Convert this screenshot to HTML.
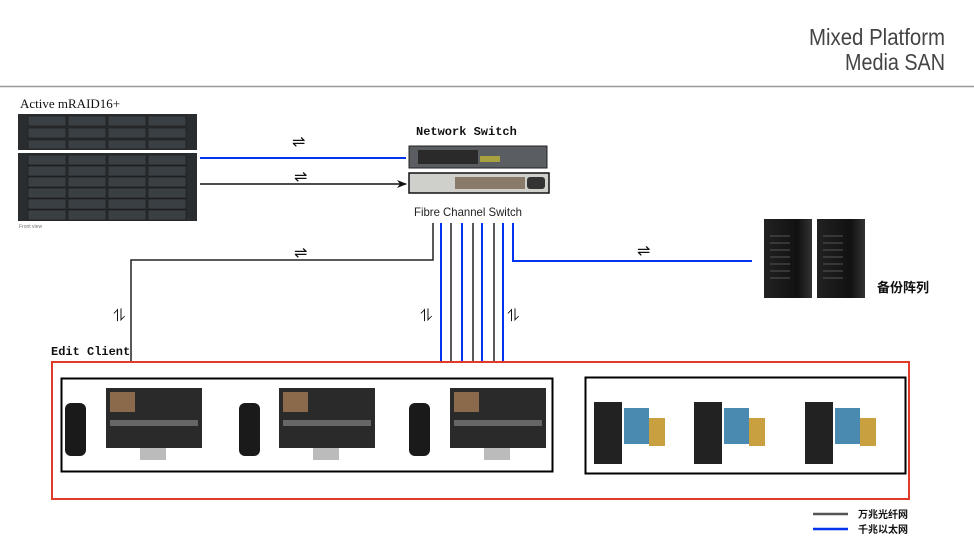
<!DOCTYPE html>
<html><head><meta charset="utf-8"><style>
body{margin:0;background:#fff;width:974px;height:538px;overflow:hidden}
svg{display:block}
</style></head><body>
<svg width="974" height="538" viewBox="0 0 974 538" xmlns="http://www.w3.org/2000/svg">
<defs>
<marker id="ah" markerWidth="10" markerHeight="8" refX="9" refY="4" orient="auto" markerUnits="userSpaceOnUse"><path d="M0,0 L10,4 L0,8 L3,4 z" fill="#111"/></marker>
<linearGradient id="tw" x1="0" x2="1"><stop offset="0" stop-color="#222"/><stop offset="0.7" stop-color="#111"/><stop offset="1" stop-color="#333"/></linearGradient>
</defs>
<!-- title -->
<text x="809" y="45" textLength="136" lengthAdjust="spacingAndGlyphs" font-family="'Liberation Sans',sans-serif" font-size="23" fill="#444">Mixed Platform</text>
<text x="845" y="70" textLength="100" lengthAdjust="spacingAndGlyphs" font-family="'Liberation Sans',sans-serif" font-size="23" fill="#444">Media SAN</text>
<line x1="0" y1="86.5" x2="974" y2="86.5" stroke="#999" stroke-width="1.5"/>

<!-- storage -->
<text x="20" y="108" font-family="'Liberation Serif',serif" font-size="13" fill="#111">Active mRAID16+</text>
<rect x="18" y="114" width="179" height="36" fill="#2a2d30"/>
<rect x="18" y="153" width="179" height="68" fill="#2a2d30"/>
<g fill="#3a3f44" stroke="#111" stroke-width="0.5">
<rect x="28" y="116" width="38" height="10"/><rect x="68" y="116" width="38" height="10"/><rect x="108" y="116" width="38" height="10"/><rect x="148" y="116" width="38" height="10"/>
<rect x="28" y="128" width="38" height="10"/><rect x="68" y="128" width="38" height="10"/><rect x="108" y="128" width="38" height="10"/><rect x="148" y="128" width="38" height="10"/>
<rect x="28" y="140" width="38" height="9"/><rect x="68" y="140" width="38" height="9"/><rect x="108" y="140" width="38" height="9"/><rect x="148" y="140" width="38" height="9"/>
</g>
<g fill="#3a3f44" stroke="#111" stroke-width="0.5">
<rect x="28" y="155" width="38" height="10"/><rect x="68" y="155" width="38" height="10"/><rect x="108" y="155" width="38" height="10"/><rect x="148" y="155" width="38" height="10"/>
<rect x="28" y="166" width="38" height="10"/><rect x="68" y="166" width="38" height="10"/><rect x="108" y="166" width="38" height="10"/><rect x="148" y="166" width="38" height="10"/>
<rect x="28" y="177" width="38" height="10"/><rect x="68" y="177" width="38" height="10"/><rect x="108" y="177" width="38" height="10"/><rect x="148" y="177" width="38" height="10"/>
<rect x="28" y="188" width="38" height="10"/><rect x="68" y="188" width="38" height="10"/><rect x="108" y="188" width="38" height="10"/><rect x="148" y="188" width="38" height="10"/>
<rect x="28" y="199" width="38" height="10"/><rect x="68" y="199" width="38" height="10"/><rect x="108" y="199" width="38" height="10"/><rect x="148" y="199" width="38" height="10"/>
<rect x="28" y="210" width="38" height="10"/><rect x="68" y="210" width="38" height="10"/><rect x="108" y="210" width="38" height="10"/><rect x="148" y="210" width="38" height="10"/>
</g>
<text x="19" y="228" font-family="'Liberation Sans',sans-serif" font-size="5" fill="#777">Front view</text>

<!-- switches -->
<text x="416" y="135" font-family="'Liberation Mono',monospace" font-weight="bold" font-size="12" fill="#111">Network Switch</text>
<rect x="409" y="146" width="138" height="22" fill="#5a5e63" stroke="#222"/>
<rect x="418" y="150" width="60" height="14" fill="#2a2a2a"/>
<rect x="480" y="156" width="20" height="6" fill="#a9a040"/>
<rect x="409" y="173" width="140" height="20" fill="#cfd0cc" stroke="#111" stroke-width="1.5"/>
<rect x="455" y="177" width="70" height="12" fill="#8a7a6a"/>
<rect x="527" y="177" width="18" height="12" rx="3" fill="#333"/>
<text x="414" y="216" textLength="108" lengthAdjust="spacingAndGlyphs" font-family="'Liberation Sans',sans-serif" font-size="12" fill="#222">Fibre Channel Switch</text>

<!-- connectors -->
<line x1="200" y1="158" x2="406" y2="158" stroke="#0033ee" stroke-width="2"/>
<line x1="200" y1="184" x2="406" y2="184" stroke="#111" stroke-width="1.5" marker-end="url(#ah)"/>
<text x="292" y="147" font-size="16" font-family="'DejaVu Sans',sans-serif" fill="#111">⇌</text>
<text x="294" y="182" font-size="16" font-family="'DejaVu Sans',sans-serif" fill="#111">⇌</text>
<text x="294" y="258" font-size="16" font-family="'DejaVu Sans',sans-serif" fill="#111">⇌</text>
<text x="637" y="256" font-size="16" font-family="'DejaVu Sans',sans-serif" fill="#111">⇌</text>
<text x="113" y="321" font-size="17" font-family="'DejaVu Sans',sans-serif" fill="#111">⥮</text>
<text x="420" y="321" font-size="17" font-family="'DejaVu Sans',sans-serif" fill="#111">⥮</text>
<text x="507" y="321" font-size="17" font-family="'DejaVu Sans',sans-serif" fill="#111">⥮</text>
<polyline points="433,223 433,260 131,260 131,362" fill="none" stroke="#222" stroke-width="1.5"/>
<g stroke-width="2">
<line x1="441" y1="223" x2="441" y2="362" stroke="#0033ee"/>
<line x1="451" y1="223" x2="451" y2="362" stroke="#222" stroke-width="1.5"/>
<line x1="462" y1="223" x2="462" y2="362" stroke="#0033ee"/>
<line x1="473" y1="223" x2="473" y2="362" stroke="#222" stroke-width="1.5"/>
<line x1="482" y1="223" x2="482" y2="362" stroke="#0033ee"/>
<line x1="494" y1="223" x2="494" y2="362" stroke="#222" stroke-width="1.5"/>
<line x1="503" y1="223" x2="503" y2="362" stroke="#0033ee"/>
</g>
<polyline points="513,223 513,261 752,261" fill="none" stroke="#0033ee" stroke-width="2"/>

<!-- backup towers -->
<rect x="764" y="219" width="48" height="79" fill="url(#tw)"/>
<rect x="817" y="219" width="48" height="79" fill="url(#tw)"/>
<g stroke="#555" stroke-width="1">
<line x1="770" y1="236" x2="790" y2="236"/><line x1="770" y1="243" x2="790" y2="243"/><line x1="770" y1="250" x2="790" y2="250"/><line x1="770" y1="257" x2="790" y2="257"/><line x1="770" y1="264" x2="790" y2="264"/><line x1="770" y1="271" x2="790" y2="271"/><line x1="770" y1="278" x2="790" y2="278"/>
<line x1="823" y1="236" x2="843" y2="236"/><line x1="823" y1="243" x2="843" y2="243"/><line x1="823" y1="250" x2="843" y2="250"/><line x1="823" y1="257" x2="843" y2="257"/><line x1="823" y1="264" x2="843" y2="264"/><line x1="823" y1="271" x2="843" y2="271"/><line x1="823" y1="278" x2="843" y2="278"/>
</g>
<text x="877" y="292" font-family="'Liberation Sans','Noto Sans CJK SC',sans-serif" font-weight="bold" font-size="13" fill="#111">备份阵列</text>

<!-- edit client -->
<text x="51" y="355" font-family="'Liberation Mono',monospace" font-weight="bold" font-size="12" fill="#111">Edit Client</text>
<rect x="52" y="362" width="857" height="137" fill="none" stroke="#e03a2a" stroke-width="2"/>
<rect x="61.5" y="378.5" width="491" height="93" fill="#fff" stroke="#000" stroke-width="2"/>
<rect x="585.5" y="377.5" width="320" height="96" fill="#fff" stroke="#000" stroke-width="2"/>
<g>
<rect x="65" y="403" width="21" height="53" rx="6" fill="#1a1a1a"/>
<rect x="106" y="388" width="96" height="60" fill="#2a2a2a"/><rect x="110" y="392" width="25" height="20" fill="#8a6a4a"/><rect x="110" y="420" width="88" height="6" fill="#666"/><rect x="140" y="448" width="26" height="12" fill="#bbb"/>
<rect x="239" y="403" width="21" height="53" rx="6" fill="#1a1a1a"/>
<rect x="279" y="388" width="96" height="60" fill="#2a2a2a"/><rect x="283" y="392" width="25" height="20" fill="#8a6a4a"/><rect x="283" y="420" width="88" height="6" fill="#666"/><rect x="313" y="448" width="26" height="12" fill="#bbb"/>
<rect x="409" y="403" width="21" height="53" rx="6" fill="#1a1a1a"/>
<rect x="450" y="388" width="96" height="60" fill="#2a2a2a"/><rect x="454" y="392" width="25" height="20" fill="#8a6a4a"/><rect x="454" y="420" width="88" height="6" fill="#666"/><rect x="484" y="448" width="26" height="12" fill="#bbb"/>
</g>
<g>
<rect x="594" y="402" width="28" height="62" fill="#222"/><rect x="624" y="408" width="25" height="36" fill="#4a8ab0"/><rect x="649" y="418" width="16" height="28" fill="#c9a040"/>
<rect x="694" y="402" width="28" height="62" fill="#222"/><rect x="724" y="408" width="25" height="36" fill="#4a8ab0"/><rect x="749" y="418" width="16" height="28" fill="#c9a040"/>
<rect x="805" y="402" width="28" height="62" fill="#222"/><rect x="835" y="408" width="25" height="36" fill="#4a8ab0"/><rect x="860" y="418" width="16" height="28" fill="#c9a040"/>
</g>

<!-- legend -->
<line x1="813" y1="514" x2="848" y2="514" stroke="#555" stroke-width="2.5"/>
<line x1="813" y1="529" x2="848" y2="529" stroke="#0033ee" stroke-width="2.5"/>
<text x="858" y="518" font-family="'Liberation Sans','Noto Sans CJK SC',sans-serif" font-weight="bold" font-size="10" fill="#111">万兆光纤网</text>
<text x="858" y="533" font-family="'Liberation Sans','Noto Sans CJK SC',sans-serif" font-weight="bold" font-size="10" fill="#111">千兆以太网</text>
</svg>
</body></html>
